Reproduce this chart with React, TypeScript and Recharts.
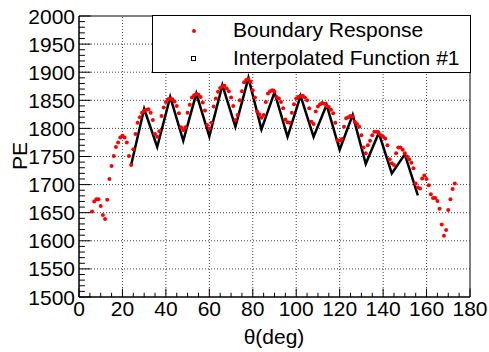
import React from 'react'
import {
  ComposedChart,
  Scatter,
  Line,
  XAxis,
  YAxis,
  ReferenceLine,
  ReferenceArea,
} from 'recharts'

// boundary response, one point per degree
const redAngles = [
  6, 7, 8, 9, 10, 11, 12, 13, 14, 15, 16, 17, 18, 19, 20, 21, 22, 23, 24, 25,
  26, 27, 28, 29, 30, 31, 32, 33, 34, 35, 36, 37, 38, 39, 40, 41, 42, 43, 44, 45,
  46, 47, 48, 49, 50, 51, 52, 53, 54, 55, 56, 57, 58, 59, 60, 61, 62, 63, 64, 65,
  66, 67, 68, 69, 70, 71, 72, 73, 74, 75, 76, 77, 78, 79, 80, 81, 82, 83, 84, 85,
  86, 87, 88, 89, 90, 91, 92, 93, 94, 95, 96, 97, 98, 99, 100, 101, 102, 103, 104, 105,
  106, 107, 108, 109, 110, 111, 112, 113, 114, 115, 116, 117, 118, 119, 120, 121, 122, 123, 124, 125,
  126, 127, 128, 129, 130, 131, 132, 133, 134, 135, 136, 137, 138, 139, 140, 141, 142, 143, 144, 145,
  146, 147, 148, 149, 150, 151, 152, 153, 154, 155, 156, 157, 158, 159, 160, 161, 162, 163, 164, 165,
  166, 167, 168, 169, 170, 171, 172, 173,
]
const redPE = [
  1652, 1670, 1674, 1674, 1662, 1646, 1639, 1673, 1710, 1733, 1751, 1767, 1775, 1784, 1787, 1784, 1775, 1751, 1735, 1763,
  1790, 1810, 1820, 1828, 1831, 1833, 1834, 1828, 1815, 1790, 1785, 1795, 1822, 1837, 1847, 1852, 1853, 1852, 1848, 1840,
  1827, 1802, 1797, 1802, 1828, 1842, 1855, 1859, 1861, 1860, 1856, 1846, 1832, 1806, 1800, 1810, 1839, 1853, 1865, 1872,
  1875, 1876, 1871, 1866, 1855, 1840, 1815, 1824, 1850, 1866, 1882, 1886, 1888, 1883, 1868, 1855, 1830, 1825, 1819, 1824,
  1847, 1862, 1866, 1868, 1865, 1856, 1853, 1847, 1836, 1816, 1811, 1810, 1828, 1843, 1853, 1856, 1858, 1858, 1855, 1850,
  1836, 1812, 1808, 1830, 1839, 1843, 1845, 1844, 1840, 1838, 1833, 1827, 1810, 1779, 1778, 1781, 1803, 1818, 1820, 1822,
  1821, 1812, 1808, 1803, 1788, 1766, 1756, 1770, 1778, 1788, 1794, 1794, 1792, 1788, 1785, 1782, 1770, 1745, 1738, 1735,
  1756, 1766, 1766, 1762, 1756, 1750, 1745, 1739, 1729, 1702, 1695, 1693, 1711, 1716, 1710, 1699, 1683, 1676, 1676, 1671,
  1657, 1629, 1609, 1619, 1655, 1674, 1692, 1702,
]

// interpolated function #1 vertices
const lineAngles = [24, 30, 36, 42, 48, 54, 60, 66, 72, 78, 84, 90, 96, 102, 108, 114, 120, 126, 132, 138, 144, 150, 156]
const linePE = [1735, 1835, 1767, 1856, 1778, 1862, 1786, 1877, 1803, 1890, 1798, 1864, 1785, 1858, 1785, 1842, 1762, 1824, 1737, 1792, 1720, 1754, 1681]

const xTicks = [
  0, 5, 10, 15, 20, 25, 30, 35, 40, 45, 50, 55, 60, 65, 70, 75, 80, 85, 90,
  95, 100, 105, 110, 115, 120, 125, 130, 135, 140, 145, 150, 155, 160, 165, 170, 175, 180,
]
const yTicks = [
  1500, 1510, 1520, 1530, 1540, 1550, 1560, 1570, 1580, 1590, 1600, 1610, 1620, 1630, 1640,
  1650, 1660, 1670, 1680, 1690, 1700, 1710, 1720, 1730, 1740, 1750, 1760, 1770, 1780, 1790,
  1800, 1810, 1820, 1830, 1840, 1850, 1860, 1870, 1880, 1890, 1900, 1910, 1920, 1930, 1940,
  1950, 1960, 1970, 1980, 1990, 2000,
]
const xGrid = [20, 40, 60, 80, 100, 120, 140, 160]
const yGrid = [1550, 1600, 1650, 1700, 1750, 1800, 1850, 1900, 1950]

const FONT = '"Liberation Sans", Arial, Helvetica, sans-serif'

const redData = redAngles.map((x, i) => ({ x, y: redPE[i] }))
const lineData = lineAngles.map((x, i) => ({ x, y: linePE[i] }))

function XTick(props: any) {
  const { x, y, payload } = props
  const v = payload.value as number
  const major = v % 20 === 0
  return (
    <g>
      <line x1={x} y1={y} x2={x} y2={y - (major ? 8.4 : 4.2)} stroke="#000" strokeWidth={1} />
      {major && (
        <text x={x} y={y + 19} textAnchor="middle" fontSize={21} fontFamily={FONT} fill="#000">
          {v}
        </text>
      )}
    </g>
  )
}

function YTick(props: any) {
  const { x, y, payload } = props
  const v = payload.value as number
  const major = v % 50 === 0
  return (
    <g>
      <line x1={x} y1={y} x2={x + (major ? 11.7 : 5.9)} y2={y} stroke="#000" strokeWidth={1} />
      {major && (
        <text x={x - 4} y={y + 7.5} textAnchor="end" fontSize={21} fontFamily={FONT} fill="#000">
          {v}
        </text>
      )}
    </g>
  )
}

export default function App() {
  return (
    <div
      style={{
        position: 'absolute',
        left: 0,
        top: 0,
        width: 489,
        height: 352,
        background: '#fff',
        fontFamily: FONT,
      }}
    >
      <ComposedChart width={489} height={352} margin={{ top: 16, right: 19, bottom: 0, left: 29 }}>
        <XAxis
          dataKey="x"
          type="number"
          domain={[0, 180]}
          ticks={xTicks}
          interval={0}
          tickSize={0}
          tickMargin={0}
          tickLine={false}
          tick={<XTick />}
          height={55}
          axisLine={{ stroke: '#000' }}
          allowDataOverflow
        />
        <YAxis
          type="number"
          domain={[1500, 2000]}
          ticks={yTicks}
          interval={0}
          tickSize={0}
          tickMargin={0}
          tickLine={false}
          tick={<YTick />}
          width={50}
          axisLine={{ stroke: '#000' }}
          allowDataOverflow
        />
        {xGrid.map((v) => (
          <ReferenceLine key={'gx' + v} x={v} stroke="#444" strokeDasharray="1 2" />
        ))}
        {yGrid.map((v) => (
          <ReferenceLine key={'gy' + v} y={v} stroke="#444" strokeDasharray="1 2" />
        ))}
        <ReferenceArea x1={0} x2={180} y1={1500} y2={2000} fill="#fff" fillOpacity={0} stroke="#000" strokeWidth={1} />
        <Scatter
          data={redData}
          dataKey="y"
          isAnimationActive={false}
          shape={(p: any) => <circle cx={p.cx} cy={p.cy} r={2} fill="#ff0000" />}
        />
        <Line
          data={lineData}
          dataKey="y"
          type="linear"
          stroke="#000"
          strokeWidth={2.5}
          dot={false}
          activeDot={false}
          isAnimationActive={false}
        />
      </ComposedChart>

      {/* axis titles */}
      <div
        style={{
          position: 'absolute',
          left: 19,
          top: 156,
          fontSize: 21,
          lineHeight: '21px',
          transform: 'translate(-50%, -50%) rotate(-90deg)',
          whiteSpace: 'nowrap',
        }}
      >
        PE
      </div>
      <div
        style={{
          position: 'absolute',
          left: 274,
          top: 336,
          fontSize: 21,
          lineHeight: '21px',
          transform: 'translate(-50%, -50%)',
          whiteSpace: 'nowrap',
        }}
      >
        θ(deg)
      </div>

      {/* legend */}
      <div
        style={{
          position: 'absolute',
          left: 152,
          top: 15,
          width: 317,
          height: 56,
          border: '1px solid #000',
          background: '#fff',
          fontSize: 21,
        }}
      >
        <div
          style={{
            position: 'absolute',
            left: 38.5,
            top: 12.5,
            width: 4,
            height: 4,
            borderRadius: 2,
            background: '#ff0000',
          }}
        />
        <div style={{ position: 'absolute', left: 80, top: 2, lineHeight: '24px', whiteSpace: 'nowrap' }}>
          Boundary Response
        </div>
        <div
          style={{
            position: 'absolute',
            left: 38,
            top: 39.5,
            width: 3,
            height: 3,
            border: '1px solid #000',
          }}
        />
        <div style={{ position: 'absolute', left: 80, top: 30, lineHeight: '24px', whiteSpace: 'nowrap' }}>
          Interpolated Function #1
        </div>
      </div>
    </div>
  )
}
